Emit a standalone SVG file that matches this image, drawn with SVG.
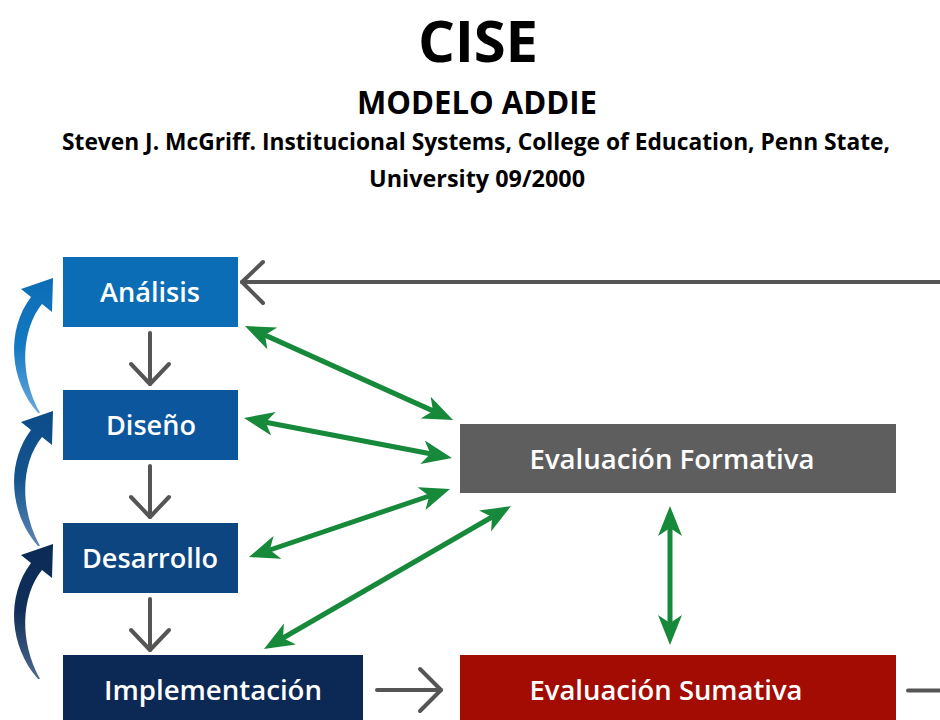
<svg xmlns="http://www.w3.org/2000/svg" width="940" height="720" viewBox="0 0 940 720">
<style>
.t{font-family:"Open Sans","Noto Sans","Liberation Sans",sans-serif;font-weight:700;fill:#000;text-anchor:middle}
.n{font-family:"Open Sans","Noto Sans","Liberation Sans",sans-serif;font-weight:600;fill:#fff;text-anchor:middle;font-size:27px}
.g{stroke:#555;stroke-width:4;fill:none;stroke-linecap:round;stroke-linejoin:round}
.gr{stroke:#17893b;stroke-width:5;fill:none;marker-start:url(#ga);marker-end:url(#ga)}
</style>
<defs>
<marker id="ga" markerUnits="userSpaceOnUse" markerWidth="32" markerHeight="26" refX="8" refY="12" orient="auto-start-reverse" viewBox="0 0 32 26">
<path d="M0,0 L30,12 L0,24 L8,12 Z" fill="#17893b"/>
</marker>
<linearGradient id="c1" x1="0" y1="1" x2="0" y2="0"><stop offset="0" stop-color="#6aa8dc"/><stop offset="0.5" stop-color="#1479c2"/><stop offset="1" stop-color="#0b6db5"/></linearGradient>
<linearGradient id="c2" x1="0" y1="1" x2="0" y2="0"><stop offset="0" stop-color="#5d86b3"/><stop offset="0.5" stop-color="#14558f"/><stop offset="1" stop-color="#0b4c89"/></linearGradient>
<linearGradient id="c3" x1="0" y1="1" x2="0" y2="0"><stop offset="0" stop-color="#4f6a8e"/><stop offset="0.5" stop-color="#102f5a"/><stop offset="1" stop-color="#0b2a55"/></linearGradient>
<path id="curve" d="M38 413 C9 380, 6 330, 31 297 L21 289 L53 278 L52 312 L42 304 C21 330, 19 375, 40 413 Z"/>
</defs>
<rect width="940" height="720" fill="#fff"/>

<g id="title">
<text class="t" x="478" y="62" font-size="58" textLength="120">CISE</text>
<text class="t" x="477" y="114" font-size="33" textLength="240" lengthAdjust="spacingAndGlyphs">MODELO ADDIE</text>
<text class="t" x="476" y="150" font-size="24" textLength="828" lengthAdjust="spacingAndGlyphs">Steven J. McGriff. Institucional Systems, College of Education, Penn State,</text>
<text class="t" x="477" y="187" font-size="24" textLength="216" lengthAdjust="spacingAndGlyphs">University 09/2000</text>
</g>

<g id="connectors">
<line class="g" x1="150" y1="333" x2="150" y2="384"/>
<polyline class="g" points="131,364 150,384 169,364"/>
<line class="g" x1="150" y1="466" x2="150" y2="517"/>
<polyline class="g" points="131,497 150,517 169,497"/>
<line class="g" x1="150" y1="599" x2="150" y2="650"/>
<polyline class="g" points="131,630 150,650 169,630"/>
<line class="g" x1="242" y1="282" x2="945" y2="282"/>
<polyline class="g" points="263,262 242,282 263,303"/>
<line class="g" x1="377" y1="690" x2="441" y2="690"/>
<polyline class="g" points="420,669 441,690 420,711"/>
<line class="g" x1="908" y1="690.5" x2="945" y2="690.5"/>
<line class="gr" x1="265" y1="335.1" x2="433" y2="410.9"/>
<line class="gr" x1="265.6" y1="422.2" x2="430.4" y2="453.8"/>
<line class="gr" x1="269.8" y1="550" x2="429.2" y2="496"/>
<line class="gr" x1="283" y1="638" x2="492" y2="517"/>
<line class="gr" x1="670" y1="528" x2="670" y2="623"/>
<use href="#curve" fill="url(#c1)"/>
<use href="#curve" fill="url(#c2)" transform="translate(0,133)"/>
<use href="#curve" fill="url(#c3)" transform="translate(0,266)"/>
</g>

<g id="analisis">
<rect x="63" y="257" width="175" height="70" fill="#0b6db5"/>
<text class="n" x="150" y="302" textLength="100" lengthAdjust="spacingAndGlyphs">Análisis</text>
</g>
<g id="diseno">
<rect x="63" y="390" width="175" height="70" fill="#0b569c"/>
<text class="n" x="151" y="435" textLength="90" lengthAdjust="spacingAndGlyphs">Diseño</text>
</g>
<g id="desarrollo">
<rect x="63" y="523" width="175" height="70" fill="#0c4580"/>
<text class="n" x="150" y="568" textLength="136" lengthAdjust="spacingAndGlyphs">Desarrollo</text>
</g>
<g id="implementacion">
<rect x="63" y="655" width="300" height="70" fill="#0c2855"/>
<text class="n" x="213" y="700" textLength="218" lengthAdjust="spacingAndGlyphs">Implementación</text>
</g>
<g id="formativa">
<rect x="460" y="424" width="436" height="69" fill="#5e5e5e"/>
<text class="n" x="672" y="469" textLength="285" lengthAdjust="spacingAndGlyphs">Evaluación Formativa</text>
</g>
<g id="sumativa">
<rect x="460" y="655" width="436" height="70" fill="#a30c02"/>
<text class="n" x="666" y="700" textLength="273" lengthAdjust="spacingAndGlyphs">Evaluación Sumativa</text>
</g>
</svg>
